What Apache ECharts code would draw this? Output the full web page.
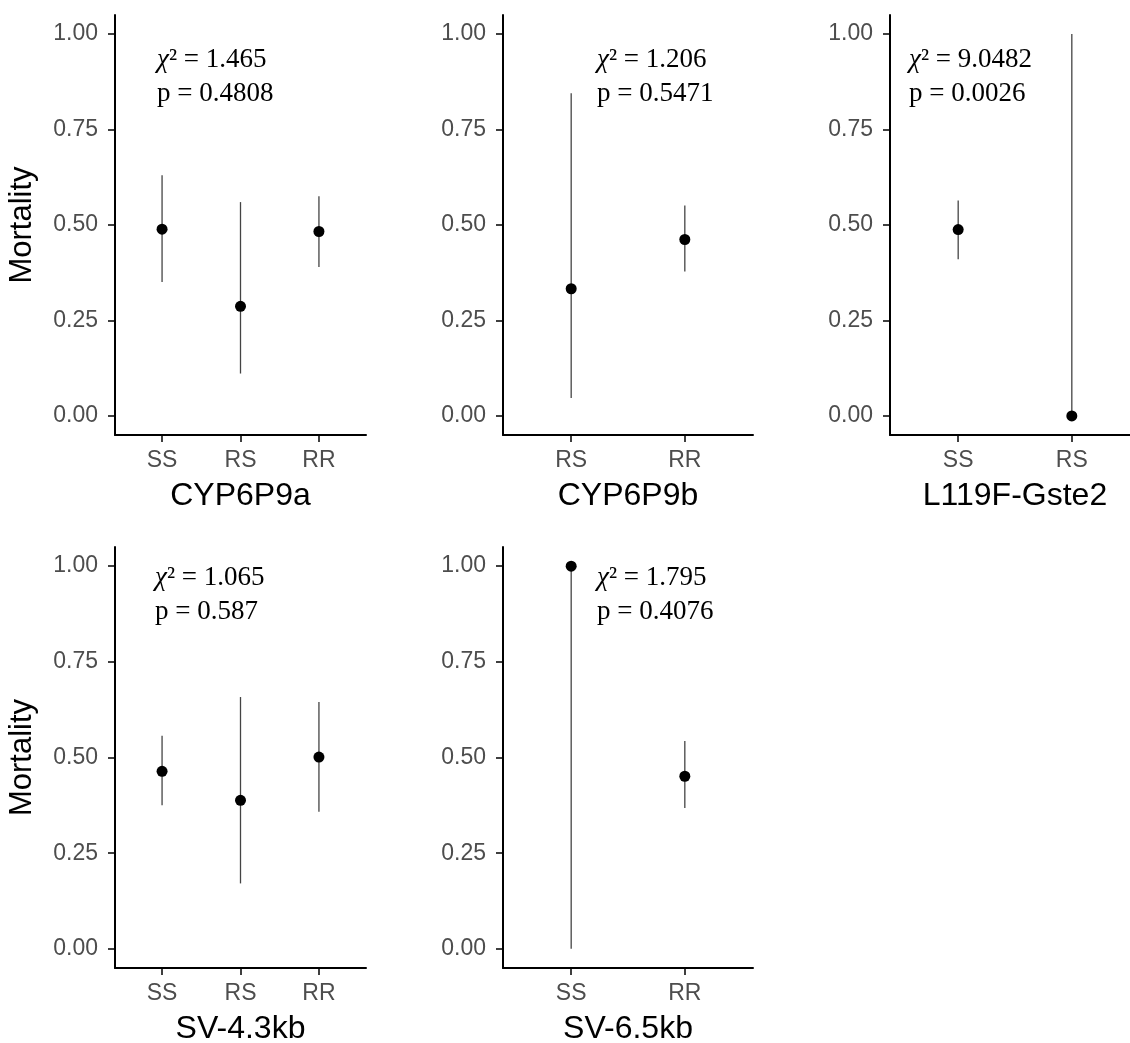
<!DOCTYPE html>
<html>
<head>
<meta charset="utf-8">
<script src="https://cdn.jsdelivr.net/npm/echarts@6/dist/echarts.min.js"></script>
<style>
html,body{margin:0;padding:0;background:#fff;}
#chart{width:1130px;height:1043px;}
</style>
</head>
<body>
<div id="chart"></div>
<script>
// ---- data ----
const panelNames = ['CYP6P9a', 'CYP6P9b', 'L119F-Gste2', 'SV-4.3kb', 'SV-6.5kb'];
const cats1 = ['SS', 'RS', 'RR'];
const mort1 = [0.489, 0.287, 0.483];
const lo1 = [0.351, 0.111, 0.390];
const hi1 = [0.630, 0.560, 0.575];
const cats2 = ['RS', 'RR'];
const mort2 = [0.333, 0.462];
const lo2 = [0.047, 0.378];
const hi2 = [0.845, 0.551];
const cats3 = ['SS', 'RS'];
const mort3 = [0.488, 0.0];
const lo3 = [0.410, 0.0];
const hi3 = [0.564, 1.0];
const cats4 = ['SS', 'RS', 'RR'];
const mort4 = [0.464, 0.388, 0.501];
const lo4 = [0.375, 0.171, 0.358];
const hi4 = [0.557, 0.658, 0.645];
const cats5 = ['SS', 'RR'];
const mort5 = [1.0, 0.451];
const lo5 = [0.0, 0.368];
const hi5 = [1.0, 0.543];
const chiVals = ['1.465', '1.206', '9.0482', '1.065', '1.795'];
const pVals = ['0.4808', '0.5471', '0.0026', '0.587', '0.4076'];
const yTicks = [0, 0.25, 0.5, 0.75, 1];
const yTitle = 'Mortality';

// ---- layout ----
const panels = [
  {cats: cats1, mort: mort1, lo: lo1, hi: hi1, grid: {left: 115, top: 15, width: 251, height: 420}, ytitle: true, ann: [157, 61, 94]},
  {cats: cats2, mort: mort2, lo: lo2, hi: hi2, grid: {left: 503, top: 15, width: 250, height: 420}, ytitle: false, ann: [597, 61, 94]},
  {cats: cats3, mort: mort3, lo: lo3, hi: hi3, grid: {left: 890, top: 15, width: 250, height: 420}, ytitle: false, ann: [909, 61, 94]},
  {cats: cats4, mort: mort4, lo: lo4, hi: hi4, grid: {left: 115, top: 547, width: 251, height: 421}, ytitle: true, ann: [155, 579, 612]},
  {cats: cats5, mort: mort5, lo: lo5, hi: hi5, grid: {left: 503, top: 547, width: 250, height: 421}, ytitle: false, ann: [597, 579, 612]}
];

const sans = "'Liberation Sans', Arial, sans-serif";
const serif = "'Liberation Serif', 'Times New Roman', serif";

const grids = [], xAxes = [], yAxes = [], series = [], graphics = [];
panels.forEach((p, k) => {
  grids.push(Object.assign({outerBoundsMode: 'none', containLabel: false}, p.grid));
  const n = p.cats.length;
  const pos = p.cats.map((c, i) => i + 1);
  xAxes.push({
    type: 'value', gridIndex: k, min: 0.4, max: n + 0.6,
    name: panelNames[k], nameLocation: 'middle', nameGap: 45,
    nameTextStyle: {fontSize: 32, color: '#000', fontFamily: sans},
    axisLine: {show: true, onZero: false, lineStyle: {color: '#000', width: 2}},
    axisTick: {show: true, length: 7, customValues: pos, lineStyle: {color: '#000', width: 1.5}},
    axisLabel: {customValues: pos, formatter: v => p.cats[Math.round(v) - 1], fontSize: 23, color: '#4d4d4d', fontFamily: sans, margin: 14},
    splitLine: {show: false}
  });
  yAxes.push({
    type: 'value', gridIndex: k, min: -0.05, max: 1.05,
    name: p.ytitle ? yTitle : '', nameLocation: 'middle', nameGap: 77, nameRotate: 90,
    nameTextStyle: {fontSize: 31, color: '#000', fontFamily: sans},
    axisLine: {show: true, onZero: false, lineStyle: {color: '#000', width: 2}},
    axisTick: {show: true, length: 7, customValues: yTicks, lineStyle: {color: '#000', width: 1.5}},
    axisLabel: {customValues: yTicks, formatter: v => v.toFixed(2), fontSize: 23, color: '#4d4d4d', fontFamily: sans, margin: 17},
    splitLine: {show: false}
  });
  series.push({
    type: 'custom', xAxisIndex: k, yAxisIndex: k,
    data: p.cats.map((c, i) => [i + 1, p.lo[i], p.hi[i]]),
    encode: {x: 0, y: [1, 2]},
    renderItem: (params, api) => {
      const x = api.value(0);
      const a = api.coord([x, api.value(1)]);
      const b = api.coord([x, api.value(2)]);
      return {type: 'line', shape: {x1: a[0], y1: a[1], x2: b[0], y2: b[1]}, style: {stroke: '#444', lineWidth: 1.3}};
    },
    silent: true, z: 2
  });
  series.push({
    type: 'scatter', xAxisIndex: k, yAxisIndex: k,
    data: p.cats.map((c, i) => [i + 1, p.mort[i]]),
    symbol: 'circle', symbolSize: 11, itemStyle: {color: '#000', opacity: 1},
    silent: true, z: 3
  });
  graphics.push({
    type: 'text', left: p.ann[0], top: p.ann[1] - 15,
    style: {
      text: '{i|χ}{n|² = ' + chiVals[k] + '}',
      rich: {
        i: {fontFamily: serif, fontStyle: 'italic', fontSize: 27, fill: '#000', lineHeight: 30},
        n: {fontFamily: serif, fontSize: 27, fill: '#000', lineHeight: 30}
      }
    }
  });
  graphics.push({
    type: 'text', left: p.ann[0], top: p.ann[2] - 15,
    style: {text: 'p = ' + pVals[k], font: '27px ' + serif, fill: '#000', lineHeight: 30}
  });
});

const chart = echarts.init(document.getElementById('chart'), null, {renderer: 'canvas'});
chart.setOption({
  backgroundColor: '#fff',
  animation: false,
  grid: grids,
  xAxis: xAxes,
  yAxis: yAxes,
  series: series,
  graphic: graphics
});
</script>
</body>
</html>
